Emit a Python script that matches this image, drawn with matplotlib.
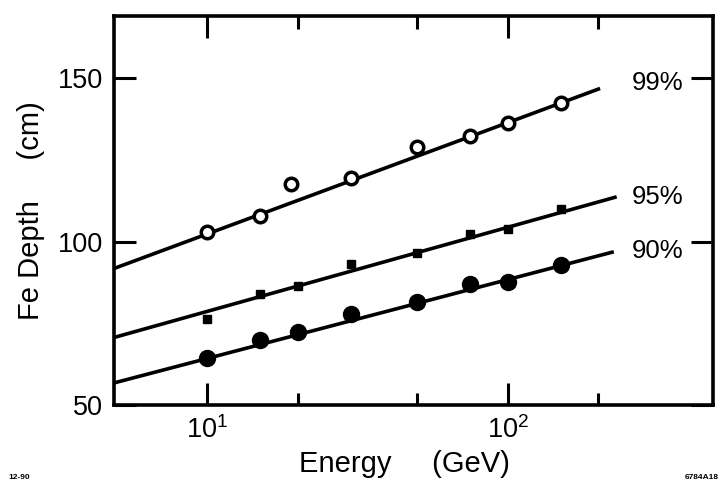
import math
import matplotlib
matplotlib.use("Agg")
import matplotlib.pyplot as plt
from matplotlib.ticker import FixedLocator, FuncFormatter, NullFormatter

plt.rcParams['font.family'] = ['Liberation Sans', 'DejaVu Sans']
plt.rcParams['mathtext.fontset'] = 'custom'
plt.rcParams['mathtext.rm'] = 'Liberation Sans'
plt.rcParams['mathtext.it'] = 'Liberation Sans'

# ---- data ----
energy_99 = [10, 15, 19, 30, 50, 75, 100, 150]
depth_99 = [103.0, 108.0, 117.7, 119.5, 129.1, 132.4, 136.3, 142.3]

energy_95 = [10, 15, 20, 30, 50, 75, 100, 150]
depth_95 = [76.5, 84.0, 86.6, 93.2, 96.6, 102.3, 103.8, 110.0]

energy_90 = [10, 15, 20, 30, 50, 75, 100, 150]
depth_90 = [64.4, 70.0, 72.4, 78.0, 81.6, 87.1, 87.6, 93.0]

fit_x_99 = [4.9, 200]
fit_y_99 = [91.8, 146.7]
fit_x_95 = [4.9, 227]
fit_y_95 = [70.7, 113.6]
fit_x_90 = [4.9, 222]
fit_y_90 = [56.8, 96.8]

curve_labels = ['99%', '95%', '90%']
label_y = [148.6, 113.6, 97.1]

xmajor = [10, 100]
xminor = [20, 50, 200]
yticks = [50, 100, 150]

# ---- figure ----
fig = plt.figure(figsize=(7.2, 4.9), dpi=100)
ax = fig.add_axes([0.158, 0.173, 0.832, 0.794])

lw = 2.6
ax.plot(fit_x_99, fit_y_99, color='black', lw=lw, zorder=2)
ax.plot(fit_x_95, fit_y_95, color='black', lw=lw, zorder=2)
ax.plot(fit_x_90, fit_y_90, color='black', lw=lw, zorder=2)

ax.plot(energy_99, depth_99, 'o', ms=9, mfc='white', mec='black', mew=2.5,
        ls='none', zorder=3)
ax.plot(energy_95, depth_95, 's', ms=6, mfc='black', mec='black',
        ls='none', zorder=3)
ax.plot(energy_90, depth_90, 'o', ms=11.5, mfc='black', mec='black',
        ls='none', zorder=3)

for lab, yy in zip(curve_labels, label_y):
    ax.text(258, yy, lab, fontsize=18.5, ha='left', va='center')

ax.set_xscale('log')
ax.set_xlim(4.9, 480)
ax.set_ylim(50, 169)

ax.xaxis.set_major_locator(FixedLocator(xmajor))
ax.xaxis.set_minor_locator(FixedLocator(xminor))
ax.xaxis.set_major_formatter(FuncFormatter(
    lambda v, p: r'$\mathregular{10^{%d}}$' % round(math.log10(v))))
ax.xaxis.set_minor_formatter(NullFormatter())
ax.yaxis.set_major_locator(FixedLocator(yticks))
ax.yaxis.set_minor_locator(FixedLocator([]))

ax.tick_params(which='major', direction='in', length=16, width=2.2,
               top=True, right=True, labelsize=19.5)
ax.tick_params(which='minor', direction='in', length=9, width=2.2,
               top=True, right=True)
ax.tick_params(axis='x', which='major', pad=8)
ax.tick_params(axis='y', which='major', pad=8)

for sp in ax.spines.values():
    sp.set_linewidth(2.6)

ax.set_xlabel('Energy     (GeV)', fontsize=21, labelpad=4)
ax.xaxis.label.set_x(0.485)
ax.set_ylabel('Fe Depth     (cm)', fontsize=21, labelpad=9)

fig.text(0.012, 0.022, '12-90', fontsize=6, fontweight='bold')
fig.text(0.998, 0.022, '6784A18', fontsize=6, fontweight='bold', ha='right')

fig.savefig('out.png', dpi=100)
